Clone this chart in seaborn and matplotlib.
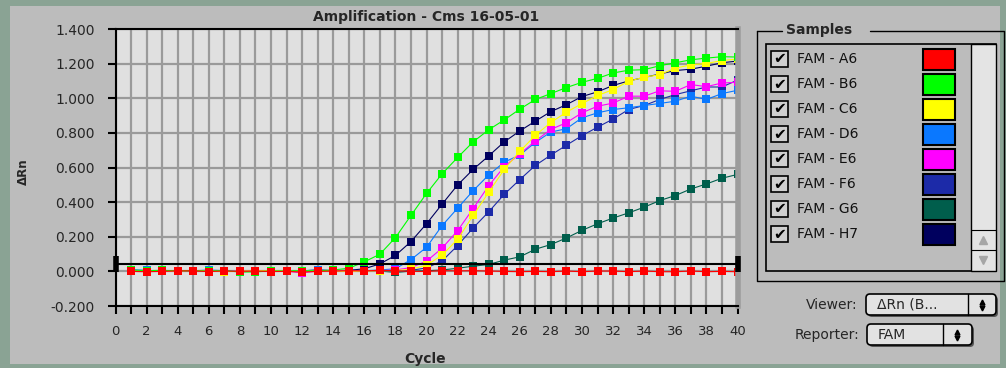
import matplotlib.pyplot as plt
import pandas as pd
import seaborn as sns
from matplotlib.patches import FancyBboxPatch, Rectangle

# --- Data (delta Rn per cycle) ---
cycles = list(range(1, 41))

samples = ["FAM - A6", "FAM - B6", "FAM - C6", "FAM - D6",
           "FAM - E6", "FAM - F6", "FAM - G6", "FAM - H7"]
sample_colors = ["#ff0000", "#00ff00", "#ffff00", "#0a78ff",
                 "#ff00ff", "#1c2aa8", "#005e4c", "#00005e"]

a6 = [0.000, -0.002, 0.000, 0.003, 0.003, -0.001, 0.002, 0.000, 0.002, -0.001,
      0.000, -0.004, 0.000, 0.002, 0.004, 0.003, 0.006, 0.004, 0.000, 0.000,
      0.004, 0.003, 0.004, 0.002, 0.000, -0.002, 0.000, -0.002, 0.002, -0.002,
      0.002, 0.002, -0.002, 0.002, -0.002, -0.002, 0.002, -0.002, 0.000, -0.002]
b6 = [0.008, 0.004, 0.006, 0.003, 0.004, 0.002, 0.005, -0.004, -0.003, 0.003,
      0.002, 0.004, 0.003, 0.008, 0.018, 0.055, 0.099, 0.195, 0.323, 0.450,
      0.563, 0.658, 0.748, 0.818, 0.875, 0.937, 0.993, 1.027, 1.062, 1.092,
      1.115, 1.146, 1.162, 1.165, 1.188, 1.205, 1.222, 1.232, 1.240, 1.238]
c6 = [0.004, 0.002, 0.003, 0.002, 0.004, 0.003, -0.002, 0.002, 0.003, 0.004,
      0.002, 0.001, 0.003, 0.002, 0.000, 0.002, 0.003, 0.005, 0.012, 0.035,
      0.094, 0.185, 0.323, 0.457, 0.589, 0.693, 0.786, 0.860, 0.920, 0.969,
      1.016, 1.050, 1.098, 1.122, 1.136, 1.174, 1.193, 1.201, 1.218, 1.226]
d6 = [0.010, 0.006, 0.002, 0.004, 0.003, 0.008, 0.004, 0.002, 0.003, 0.002,
      0.004, 0.003, 0.008, 0.004, 0.006, 0.004, 0.008, 0.015, 0.068, 0.139,
      0.264, 0.365, 0.466, 0.557, 0.631, 0.672, 0.745, 0.805, 0.824, 0.887,
      0.916, 0.935, 0.945, 0.958, 0.970, 0.983, 1.012, 0.993, 1.027, 1.046]
e6 = [0.002, 0.003, 0.001, 0.002, 0.003, 0.000, 0.002, 0.001, 0.002, 0.003,
      0.001, -0.008, 0.002, 0.003, 0.002, 0.003, 0.004, 0.008, 0.022, 0.059,
      0.134, 0.235, 0.363, 0.495, 0.605, 0.678, 0.753, 0.820, 0.859, 0.916,
      0.954, 0.972, 1.012, 1.012, 1.043, 1.040, 1.079, 1.067, 1.088, 1.092]
f6 = [0.004, 0.003, 0.002, 0.003, 0.004, 0.002, 0.003, 0.001, 0.002, 0.003,
      0.002, 0.001, 0.004, 0.003, 0.002, 0.004, 0.003, 0.002, 0.006, 0.020,
      0.060, 0.149, 0.251, 0.344, 0.445, 0.530, 0.612, 0.672, 0.729, 0.784,
      0.833, 0.880, 0.935, 0.958, 0.993, 1.021, 1.043, 1.065, 1.065, 1.105]
g6 = [0.003, 0.002, 0.004, 0.002, 0.003, 0.001, 0.002, 0.003, 0.002, 0.001,
      0.003, 0.002, 0.004, 0.003, 0.005, 0.003, 0.002, -0.006, 0.001, 0.004,
      0.008, 0.018, 0.030, 0.040, 0.065, 0.084, 0.128, 0.155, 0.193, 0.237,
      0.275, 0.308, 0.338, 0.371, 0.409, 0.438, 0.476, 0.505, 0.538, 0.560]
h7 = [0.006, 0.003, 0.002, 0.003, 0.002, 0.004, 0.003, 0.002, 0.003, 0.002,
      0.004, 0.003, 0.008, 0.004, 0.006, 0.015, 0.043, 0.092, 0.172, 0.275,
      0.388, 0.499, 0.589, 0.667, 0.748, 0.811, 0.868, 0.923, 0.963, 1.010,
      1.037, 1.074, 1.100, 1.120, 1.140, 1.160, 1.168, 1.185, 1.205, 1.215]

threshold = 0.04
y_ticks = [-0.2, 0.0, 0.2, 0.4, 0.6, 0.8, 1.0, 1.2, 1.4]
x_labelled = list(range(0, 41, 2))

# later entries are drawn on top (red baseline sits over everything)
draw_order = ["FAM - G6", "FAM - H7", "FAM - F6", "FAM - D6",
              "FAM - E6", "FAM - C6", "FAM - B6", "FAM - A6"]

series = [a6, b6, c6, d6, e6, f6, g6, h7]
df = pd.DataFrame({
    "Cycle": cycles * len(samples),
    "dRn": [v for s in series for v in s],
    "Sample": [name for name in samples for _ in cycles],
})
palette = dict(zip(samples, sample_colors))

# --- Figure / window chrome ---
sns.set_theme(style="white")
plt.rcParams["font.family"] = ["DejaVu Sans"]

W, H = 1006, 368
fig = plt.figure(figsize=(W / 100, H / 100), dpi=100, facecolor="#8aa394")

# overlay in pixel coordinates for the Mac window + sample panel
ov = fig.add_axes([0, 0, 1, 1], zorder=0)
ov.set_xlim(0, W)
ov.set_ylim(H, 0)
ov.axis("off")
ov.add_patch(Rectangle((10, 6), 990, 358, fc="#bcbcbc", ec="none"))

# --- Main plot ---
x0, x1 = 115.5, 737.5   # pixel span of cycles 0..40
y_top, y_bot = 29, 306  # pixel span of 1.4 .. -0.2
ax = fig.add_axes([x0 / W, 1 - y_bot / H, (x1 - x0) / W, (y_bot - y_top) / H], zorder=1)
ax.set_facecolor("#e0e0e0")

sns.lineplot(
    data=df, x="Cycle", y="dRn", hue="Sample", hue_order=draw_order,
    palette=palette, marker="s", markersize=5.3, markeredgewidth=0,
    linewidth=0.8, legend=False, ax=ax,
)

# threshold line with its drag handles at both ends
ax.plot([0, 40], [threshold, threshold], color="black", lw=1.5,
        marker="|", markersize=11, markeredgewidth=4, clip_on=False, zorder=5)

ax.set_xlim(0, 40)
ax.set_ylim(-0.2, 1.4)
ax.set_xticks(x_labelled)
ax.set_xticks(range(1, 41, 2), minor=True)
ax.set_yticks(y_ticks)
ax.set_yticklabels([f"{v:.3f}" for v in y_ticks])
ax.tick_params(axis="both", which="both", direction="out", length=6, width=1.5,
               color="black", bottom=True, left=True)
ax.tick_params(axis="x", labelsize=9.5, pad=8)
ax.tick_params(axis="y", labelsize=10, pad=9)
ax.set_axisbelow(True)
ax.grid(True, axis="x", which="both", color="#9a9a9a", lw=1.6)
ax.grid(True, axis="y", which="major", color="#9a9a9a", lw=1.6)

for side in ["left", "bottom", "top"]:
    ax.spines[side].set_color("black")
    ax.spines[side].set_linewidth(1.5)
ax.spines["right"].set_color("#9c9c9c")
ax.spines["right"].set_linewidth(4)

ax.set_title("Amplification - Cms 16-05-01", fontsize=10, fontweight="bold", pad=6)
ax.set_xlabel("Cycle", fontsize=10, fontweight="bold")
ax.xaxis.set_label_coords(0.4976, -0.165)
ax.set_ylabel("ΔRn", fontsize=8.5, fontweight="bold")
ax.yaxis.set_label_coords(-0.137, 0.484)

# --- Samples panel ---
ov.plot([757, 782], [31, 31], color="black", lw=1)
ov.plot([870, 1004, 1004, 757, 757], [31, 31, 281, 281, 31], color="black", lw=1)
ov.text(786, 30, "Samples", fontsize=10, fontweight="bold", va="center", ha="left")
ov.add_patch(Rectangle((766, 44), 230, 227, fc="none", ec="black", lw=1.2))
ov.add_patch(Rectangle((971, 44), 25, 227, fc="#e4e4e4", ec="black", lw=1))
ov.plot([971, 996], [230, 230], color="black", lw=0.8)
ov.plot([971, 996], [250, 250], color="black", lw=0.8)
ov.plot([983.5], [240], marker="^", color="#a6a6a6", markersize=6)
ov.plot([983.5], [260], marker="v", color="#a6a6a6", markersize=6)

for i, (name, col) in enumerate(zip(samples, sample_colors)):
    yc = 59 + 25 * i
    ov.add_patch(Rectangle((771, yc - 8), 17, 16, fc="#cfcfcf", ec="black", lw=1.2))
    ov.text(779.5, yc, "✔", fontsize=11, ha="center", va="center", color="black")
    ov.text(797, yc, name, fontsize=10, ha="left", va="center", color="#111111")
    ov.add_patch(Rectangle((923, yc - 10.5), 32, 21, fc=col, ec="black", lw=1.5))

# --- Viewer / Reporter popups ---
popups = [("Viewer:", "ΔRn (B...", 866, 294, 130, 968),
          ("Reporter:", "FAM", 867, 324, 105, 943)]
for label, value, px, py, pw, div in popups:
    ov.add_patch(FancyBboxPatch((px + 2, py + 2), pw, 21, boxstyle="round,pad=0,rounding_size=4",
                                fc="#555555", ec="none"))
    ov.add_patch(FancyBboxPatch((px, py), pw, 21, boxstyle="round,pad=0,rounding_size=4",
                                fc="#e2e2e2", ec="black", lw=1.2))
    ov.plot([div, div], [py, py + 21], color="black", lw=1)
    ax_c = (div + px + pw) / 2
    ov.plot([ax_c], [py + 7.5], marker="^", color="black", markersize=3.5)
    ov.plot([ax_c], [py + 13.5], marker="v", color="black", markersize=3.5)
    ov.text(px + 11, py + 11, value, fontsize=10, ha="left", va="center")
    ov.text(px - 8, py + 11, label, fontsize=10, ha="right", va="center")

plt.savefig("out.png", dpi=100, facecolor=fig.get_facecolor())
